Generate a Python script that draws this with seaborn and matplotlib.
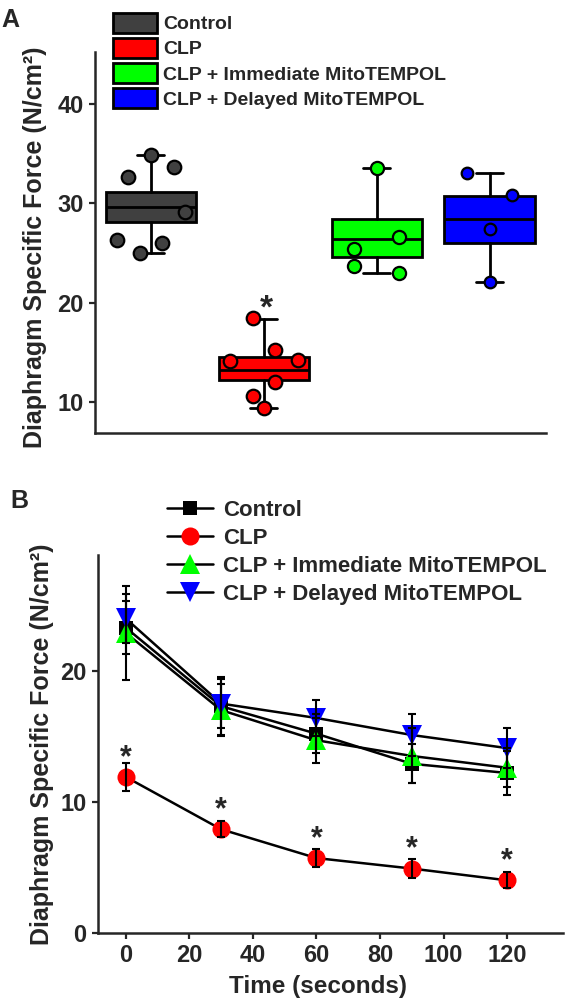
import numpy as np
import pandas as pd
import matplotlib
matplotlib.use("Agg")
import matplotlib.pyplot as plt
import seaborn as sns
from matplotlib.patches import Patch
from matplotlib.lines import Line2D

groups = ["Control", "CLP", "CLP + Immediate MitoTEMPOL", "CLP + Delayed MitoTEMPOL"]
colors = ["#404040", "#ff0000", "#00ff00", "#0000ff"]

# Panel A - individual animals
control_force = [34.8, 33.6, 32.6, 29.1, 26.3, 26.0, 25.0]
clp_force = [18.5, 15.3, 14.2, 14.3, 12.0, 10.6, 9.4]
immediate_force = [33.5, 26.6, 25.4, 23.7, 23.0]
delayed_force = [33.0, 30.8, 27.4, 22.1]

# box summaries as drawn in the figure
box_med = [29.6, 13.3, 26.4, 28.4]
box_q1 = [28.1, 12.2, 24.6, 26.0]
box_q3 = [31.1, 14.6, 28.4, 30.7]
box_lo = [25.0, 9.4, 23.0, 22.1]
box_hi = [34.8, 18.4, 33.5, 33.0]

# Panel B - force over time (mean, SEM)
time_s = [0, 30, 60, 90, 120]
control_mean = [23.3, 17.3, 15.2, 12.9, 12.2]
control_sem = [2.0, 2.2, 1.5, 1.5, 1.7]
clp_mean = [11.9, 7.9, 5.7, 4.9, 4.0]
clp_sem = [1.1, 0.6, 0.7, 0.7, 0.6]
immediate_mean = [22.9, 17.0, 14.7, 13.5, 12.6]
immediate_sem = [3.6, 2.0, 1.7, 2.1, 1.5]
delayed_mean = [24.0, 17.5, 16.4, 15.1, 14.1]
delayed_sem = [1.9, 1.9, 1.4, 1.6, 1.5]


def main():
    sns.set_theme(style="ticks")
    plt.rcParams["font.family"] = ["Liberation Sans", "DejaVu Sans"]
    plt.rcParams["font.weight"] = "bold"
    plt.rcParams["axes.labelweight"] = "bold"

    W, H = 568, 1007
    fig = plt.figure(figsize=(W / 100, H / 100), dpi=100)

    def px_axes(x0, y0, x1, y1):
        return fig.add_axes([x0 / W, 1 - y1 / H, (x1 - x0) / W, (y1 - y0) / H])

    # ---------------- Panel A ----------------
    ax = px_axes(94.5, 51.7, 546, 433.3)
    stats = [
        dict(med=m, q1=a, q3=b, whislo=lo, whishi=hi, fliers=[])
        for m, a, b, lo, hi in zip(box_med, box_q1, box_q3, box_lo, box_hi)
    ]
    bp = ax.bxp(
        stats,
        positions=range(4),
        widths=0.8,
        capwidths=0.24,
        patch_artist=True,
        showfliers=False,
        boxprops=dict(edgecolor="black", linewidth=2),
        medianprops=dict(color="black", linewidth=2),
        whiskerprops=dict(color="black", linewidth=2),
        capprops=dict(color="black", linewidth=2),
        zorder=2,
    )
    for patch, c in zip(bp["boxes"], colors):
        patch.set_facecolor(c)

    jitter = [
        [0, 0.2, -0.2, 0.3, -0.3, 0.1, -0.1],
        [-0.1, 0.1, -0.3, 0.3, 0.1, -0.1, 0],
        [0, 0.2, -0.2, -0.2, 0.2],
        [-0.2, 0.2, 0, 0],
    ]
    sizes = [95, 95, 90, 70]
    for i, vals in enumerate([control_force, clp_force, immediate_force, delayed_force]):
        df = pd.DataFrame({"x": np.array(jitter[i]) + i, "force": vals})
        sns.scatterplot(data=df, x="x", y="force", color=colors[i], s=sizes[i],
                        edgecolor="black", linewidth=1.6, ax=ax, zorder=3, legend=False)

    ax.annotate("*", xy=(1.02, box_hi[1]), xytext=(0, 1), textcoords="offset points",
                ha="center", va="baseline", fontsize=24)

    ax.set_xlim(-0.5, 3.5)
    ax.set_ylim(6.9, 45.2)
    ax.set_yticks([10, 20, 30, 40])
    ax.set_xticks([])
    ax.set_xlabel("")
    ax.set_ylabel("Diaphragm Specific Force (N/cm²)", fontsize=18)
    ax.yaxis.set_label_coords(-0.105, 0.487)
    sns.despine(ax=ax)
    for s in ["left", "bottom"]:
        ax.spines[s].set_linewidth(1.8)
    ax.tick_params(axis="y", labelsize=17, width=1.6, length=4.5, direction="out")

    handles_a = [Patch(facecolor=c, edgecolor="black", linewidth=2) for c in colors]
    fig.legend(handles_a, groups, loc="upper left",
               bbox_to_anchor=(112.7 / W, 1 - 12.5 / H), frameon=False,
               borderpad=0, borderaxespad=0, fontsize=14, handlelength=2.27,
               handleheight=1.25, handletextpad=0.34, labelspacing=0.22)
    fig.text(1.7 / W, 1 - 8 / H, "A", fontsize=18, fontweight="bold", va="top", ha="left")

    # ---------------- Panel B ----------------
    bx = px_axes(97.8, 555, 563.4, 932.7)
    markers = ["s", "o", "^", "v"]
    msizes = [10.5, 13, 14, 14]
    means = [control_mean, clp_mean, immediate_mean, delayed_mean]
    sems = [control_sem, clp_sem, immediate_sem, delayed_sem]
    for i in range(4):
        df = pd.DataFrame({"time": time_s, "force": means[i]})
        sns.lineplot(data=df, x="time", y="force", color="black", linewidth=1.8,
                     marker=markers[i], markersize=msizes[i],
                     markerfacecolor=colors[i] if i else "black",
                     markeredgecolor=colors[i] if i else "black",
                     markeredgewidth=0, ax=bx, zorder=3)
    for i in range(4):
        bx.errorbar(time_s, means[i], yerr=sems[i], fmt="none", ecolor="black",
                    elinewidth=1.5, capsize=3, capthick=1.5, zorder=4)
    for t, m in zip(time_s, clp_mean):
        bx.annotate("*", xy=(t, m), xytext=(0, 8), textcoords="offset points",
                    ha="center", va="baseline", fontsize=22)

    bx.set_xlim(-8.8, 137.7)
    bx.set_ylim(0, 28.85)
    bx.set_xticks([0, 20, 40, 60, 80, 100, 120])
    bx.set_yticks([0, 10, 20])
    bx.set_xlabel("Time (seconds)", fontsize=17.5)
    bx.set_ylabel("Diaphragm Specific Force (N/cm²)", fontsize=18)
    bx.xaxis.set_label_coords(0.474, -0.112)
    bx.yaxis.set_label_coords(-0.094, 0.5)
    sns.despine(ax=bx)
    for s in ["left", "bottom"]:
        bx.spines[s].set_linewidth(1.8)
    bx.tick_params(labelsize=17, width=1.6, length=4.5, direction="out")

    handles_b = [
        Line2D([], [], color="black", linewidth=1.8, marker=markers[i],
               markersize=msizes[i], markerfacecolor=colors[i] if i else "black",
               markeredgecolor=colors[i] if i else "black", markeredgewidth=0)
        for i in range(4)
    ]
    fig.legend(handles_b, groups, loc="upper left",
               bbox_to_anchor=(166.7 / W, 1 - 500 / H), frameon=False,
               borderpad=0, borderaxespad=0, fontsize=16, handlelength=2.1,
               handletextpad=0.45, labelspacing=0.31, numpoints=1)
    fig.text(10 / W, 1 - 489 / H, "B", fontsize=18, fontweight="bold", va="top", ha="left")

    fig.savefig("out.png", dpi=100)


if __name__ == "__main__":
    main()
